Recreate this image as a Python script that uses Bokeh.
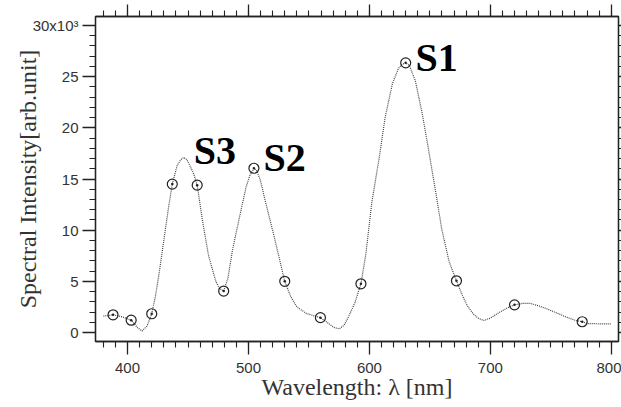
from bokeh.plotting import figure
from bokeh.models import LinearAxis, FixedTicker, Label, Range1d
from bokeh.embed import file_html
from bokeh.resources import INLINE

# Dotted spectrum curve (wavelength nm, intensity x10^3)
curve_wl = [380, 388, 395, 403, 408, 412, 416, 420, 423, 426, 430, 434, 437, 441, 444, 446.5,
            449, 452, 455, 457.6, 462, 467, 473, 476, 479.5, 483, 487, 493, 498, 501, 504.5,
            507, 510, 514, 521, 526, 530, 535, 540, 548, 559.5, 565, 570.5, 575, 579, 583, 588,
            593, 597, 602, 608, 613, 619, 624, 627, 630, 633, 638, 644, 649, 655, 660, 666, 672,
            677, 681, 686, 690, 694.5, 700, 708, 714, 720, 727, 733, 740, 747, 755, 763, 770,
            776, 780, 790, 800]
curve_int = [1.6, 1.73, 1.55, 1.2, 0.5, 0.15, 0.6, 1.83, 3.5, 5.7, 9.0, 12.3, 14.5, 16.3, 16.9, 17.1,
             16.9, 16.2, 15.4, 14.4, 10.9, 7.5, 5.0, 4.3, 4.05, 5.3, 8.2, 11.5, 14.2, 15.3, 16.05,
             15.8, 14.8, 12.8, 9.5, 7.0, 5.0, 3.5, 2.5, 1.85, 1.45, 1.0, 0.5, 0.35, 0.7, 1.6, 2.9,
             4.76, 7.6, 12.7, 17.0, 21.0, 24.3, 25.8, 26.2, 26.35, 26.1, 24.6, 21.2, 17.8, 13.6, 10.0, 6.9, 5.05,
             3.6, 2.6, 1.8, 1.4, 1.17, 1.4, 2.0, 2.4, 2.7, 2.85, 2.85, 2.6, 2.3, 1.9, 1.5, 1.2,
             1.05, 0.87, 0.85, 0.85]

# Measured points (circles)
marker_wl = [388, 403, 420, 437, 457.6, 479.5, 504.5, 530, 559.5, 593, 630, 672, 720, 776]
marker_int = [1.73, 1.2, 1.83, 14.5, 14.4, 4.05, 16.05, 5.0, 1.45, 4.76, 26.35, 5.05, 2.7, 1.05]

# Peak labels
peak_names = ["S1", "S2", "S3"]
peak_wl = [638.2, 512.5, 454.8]
peak_int = [26.9, 17.1, 17.8]

x_ticks = [400, 500, 600, 700, 800]
y_ticks = [0, 5, 10, 15, 20, 25, 30]
y_tick_labels = ["0", "5", "10", "15", "20", "25", "30x10³"]

TICK_FONT = "Liberation Sans Narrow, Liberation Sans"
SERIF = "Liberation Serif"
AX = "#222222"

p = figure(width=621, height=407, output_backend="svg", toolbar_location=None,
           x_range=Range1d(373.5, 806), y_range=Range1d(-0.88, 30.88),
           min_border_left=95, min_border_right=3, min_border_top=16, min_border_bottom=66,
           x_axis_location=None, y_axis_location=None)
p.grid.visible = False
p.outline_line_color = AX
p.outline_line_width = 1.3
p.background_fill_color = "white"
p.border_fill_color = "white"

def style(ax, labels=True, tick_out=13, minor_out=6):
    ax.axis_line_color = AX
    ax.axis_line_width = 1.3
    ax.major_tick_line_color = AX
    ax.minor_tick_line_color = AX
    ax.major_tick_line_width = 1.3
    ax.minor_tick_line_width = 1.1
    ax.major_tick_in = 0
    ax.minor_tick_in = 0
    ax.major_tick_out = tick_out
    ax.minor_tick_out = minor_out
    if labels:
        ax.major_label_text_font = TICK_FONT
        ax.major_label_text_font_size = "15px"
        ax.major_label_text_color = "#333333"
        ax.major_label_standoff = 4
    else:
        ax.major_label_text_font_size = "0px"
        ax.major_label_standoff = 0
        ax.major_label_text_color = None

xb = LinearAxis(ticker=FixedTicker(ticks=x_ticks, minor_ticks=list(range(380, 810, 10))))
style(xb)
xb.major_label_standoff = 8
xb.axis_label = "Wavelength: λ [nm]"
xb.axis_label_text_font = SERIF
xb.axis_label_text_font_style = "normal"
xb.axis_label_text_font_size = "24px"
xb.axis_label_text_color = "#333333"
xb.axis_label_standoff = -2
p.add_layout(xb, "below")

xt = LinearAxis(ticker=FixedTicker(ticks=x_ticks, minor_ticks=list(range(380, 810, 10))))
style(xt, labels=False, tick_out=12, minor_out=6)
xt.major_label_overrides = {t: "" for t in x_ticks}
p.add_layout(xt, "above")

yl = LinearAxis(ticker=FixedTicker(ticks=y_ticks, minor_ticks=list(range(0, 31))))
style(yl)
yl.major_label_overrides = {t: s for t, s in zip(y_ticks, y_tick_labels)}
yl.axis_label = "Spectral Intensity[arb.unit]"
yl.axis_label_text_font = SERIF
yl.axis_label_text_font_style = "normal"
yl.axis_label_text_font_size = "24px"
yl.axis_label_text_color = "#333333"
yl.axis_label_standoff = -11
p.add_layout(yl, "left")

yr = LinearAxis(ticker=FixedTicker(ticks=y_ticks, minor_ticks=list(range(0, 31))))
style(yr, labels=False, tick_out=3, minor_out=3)
yr.major_label_overrides = {t: "" for t in y_ticks}
p.add_layout(yr, "right")

p.line(curve_wl, curve_int, line_color="#444444", line_width=1.2, line_dash="1 1")
p.scatter(marker_wl, marker_int, marker="circle_dot", size=10, fill_color=None,
          line_color="#222222", line_width=1.2)

for name, wx, wy in zip(peak_names, peak_wl, peak_int):
    p.add_layout(Label(x=wx, y=wy, text=name, text_font=SERIF, text_font_style="bold",
                       text_font_size="40px", text_color="black", text_baseline="alphabetic"))

open("out.html", "w").write(file_html(p, INLINE))
